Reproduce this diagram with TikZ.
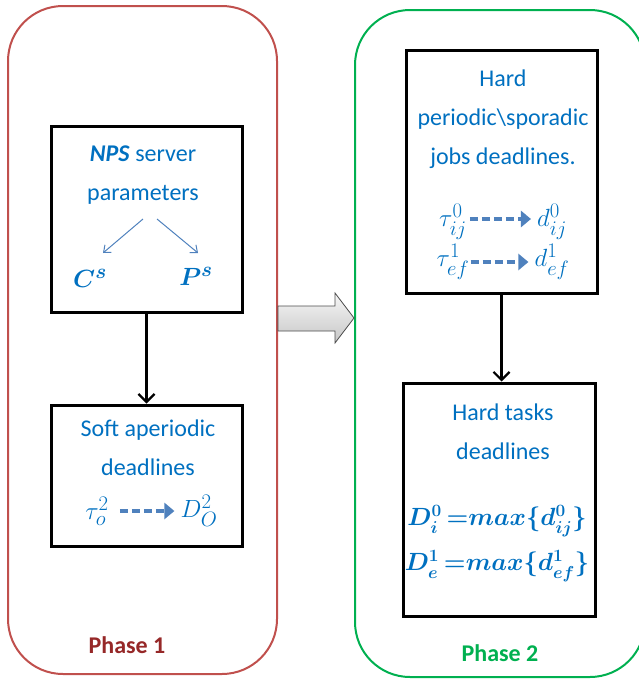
\documentclass[tikz,border=0pt]{standalone}
\usepackage{amsmath}
\usepackage{fontspec}
\setmainfont{Carlito}
\usetikzlibrary{arrows.meta,calc}
\definecolor{txtblue}{RGB}{0,112,192}
\definecolor{stblue}{RGB}{79,129,189}
\definecolor{p1red}{RGB}{192,80,77}
\definecolor{p1text}{RGB}{150,40,40}
\definecolor{p2green}{RGB}{0,176,80}
\begin{document}
\begin{tikzpicture}[x=1pt,y=-1pt,
 phase/.style={draw,line width=2pt,rounded corners=55pt,inner sep=0pt},
 box/.style={draw=black,line width=3pt,inner sep=0pt},
 txt/.style={text=txtblue,font=\fontsize{24}{39}\selectfont,align=center,inner sep=0pt},
 mth/.style={text=txtblue,font=\fontsize{29}{34}\selectfont,inner sep=1pt},
 bmth/.style={text=txtblue,font=\fontsize{25}{30}\selectfont,inner sep=1pt},
 plabel/.style={font=\fontsize{24}{29}\selectfont\bfseries,inner sep=0pt},
 flow/.style={draw=black,line width=2.2pt,-{Straight Barb[length=8pt,width=16pt,line width=2.2pt]}},
 thinarrow/.style={draw=stblue,line width=1pt,-{Straight Barb[length=6pt,width=10pt]}},
 dasharrow/.style={draw=stblue,line width=4.5pt,dash pattern=on 8pt off 4pt,-{Triangle[length=10pt,width=16pt]}},
 hollow/.style={top color=gray!6,bottom color=gray!45,draw=gray!60!black,line width=0.8pt}
]
\clip (0,0) rectangle (639,680);
% phases
\node[phase,draw=p1red,minimum width=269pt,minimum height=668pt] (p1) at (142.5,340) {};
\node[phase,draw=p2green,minimum width=290pt,minimum height=667pt] (p2) at (500,343.5) {};
% boxes
\node[box,minimum width=191pt,minimum height=186pt] (nps) at (146.5,219) {};
\node[box,minimum width=191pt,minimum height=141pt] (soft) at (146.5,475.5) {};
\node[box,minimum width=191pt,minimum height=243pt] (hard) at (501.5,171.5) {};
\node[box,minimum width=192pt,minimum height=233pt] (tasks) at (499,499.5) {};
% NPS box content
\node[txt] (npst) at (143,175) {\textbf{\textit{NPS}} server\\parameters};
\node[mth] (cs) at (90,278) {$\boldsymbol{C^s}$};
\node[mth] (ps) at (196,276) {$\boldsymbol{P^s}$};
\coordinate (a1s) at (143,219);
\coordinate (a1e) at (103,253);
\coordinate (a2s) at (157,219);
\coordinate (a2e) at (198,253);
\draw[thinarrow] (a1s) -- (a1e);
\draw[thinarrow] (a2s) -- (a2e);
% soft box content
\node[txt] (softt) at (148,448) {Soft aperiodic\\deadlines};
\node[mth] (t2) at (97,511) {$\tau^2_o$};
\node[mth] (D2) at (199,511) {$D^2_O$};
\draw[dasharrow] ($(t2.east)+(10,0)$) -- ($(D2.west)+(-5,0)$);
% hard box content
\node[txt] (hardt) at (503,119) {Hard\\periodic\textbackslash sporadic\\jobs deadlines.};
\node[mth] (t0) at (453,222) {$\tau^0_{ij}$};
\node[mth] (d0) at (552,222) {$d^0_{ij}$};
\node[mth] (t1) at (453,262) {$\tau^1_{ef}$};
\node[mth] (d1) at (552,262) {$d^1_{ef}$};
\draw[dasharrow] ($(t0.east)+(2,-3)$) -- ($(d0.west |- t0.east)+(-5,-3)$);
\draw[dasharrow] ($(t1.east)+(0,0)$) -- ($(d1.west |- t1.east)+(-5,0)$);
% tasks box content
\node[txt] (taskt) at (503,432) {Hard tasks\\deadlines};
\node[bmth] (m0) at (497,521) {$\boldsymbol{D^0_i\,{=}max\{d^0_{ij}\}}$};
\node[bmth] (m1) at (497,566) {$\boldsymbol{D^1_e\,{=}max\{d^1_{ef}\}}$};
% phase labels
\node[plabel,text=p1text] (l1) at (127,645) {Phase 1};
\node[plabel,text=p2green] (l2) at (500,653) {Phase 2};
% flows
\draw[flow] (nps.south) -- (soft.north);
\draw[flow] (hard.south) -- (hard.south |- tasks.north);
% big hollow arrow between phases
\draw[hollow] (p1.east |- 0,306) -- (335,306) -- (335,293) -- (p2.west |- 0,318)
  -- (335,343) -- (335,331) -- (p1.east |- 0,331) -- cycle;
\end{tikzpicture}
\end{document}
